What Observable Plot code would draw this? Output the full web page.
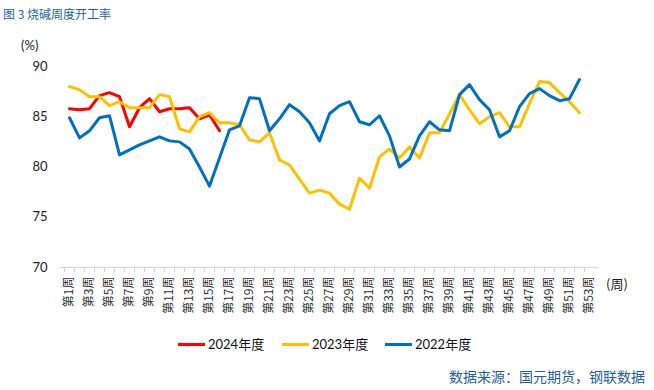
<!DOCTYPE html>
<html><head><meta charset="utf-8">
<script src="https://cdn.jsdelivr.net/npm/d3@7"></script>
<script src="https://cdn.jsdelivr.net/npm/@observablehq/plot@0.6"></script>
<style>
body{margin:0;background:#fff;}
#wrap{position:relative;width:654px;height:390px;font-family:Lato,"Noto Sans CJK SC",sans-serif;overflow:hidden;}
#chart svg{display:block;}
.abs{position:absolute;white-space:nowrap;}
.title{left:3px;top:5px;font-size:12px;color:#1f5fa6;font-family:"Noto Sans CJK SC",sans-serif;}
.unit{left:21px;top:37px;font-size:13px;color:#222;}
.wk{left:606px;top:274px;font-size:13px;color:#222;font-family:"Noto Sans CJK SC",sans-serif;}
.leg{top:335px;font-size:13px;color:#111;line-height:18px;}
.leg i{display:inline-block;width:27px;height:3px;vertical-align:middle;margin-right:3px;position:relative;top:-1px;}
.src{right:9px;top:366px;font-size:14px;color:#1f5fa6;font-family:"Noto Sans CJK SC",sans-serif;}
</style></head>
<body>
<div id="wrap">
  <div id="chart"></div>
  <div class="abs title">图 3 烧碱周度开工率</div>
  <div class="abs unit">(%)</div>
  <div class="abs wk">(周)</div>
  <div id="legend"></div>
  <div class="abs src">数据来源：国元期货，钢联数据</div>
</div>
<script>
const weeks = ["第1周","第2周","第3周","第4周","第5周","第6周","第7周","第8周","第9周","第10周",
"第11周","第12周","第13周","第14周","第15周","第16周","第17周","第18周","第19周","第20周",
"第21周","第22周","第23周","第24周","第25周","第26周","第27周","第28周","第29周","第30周",
"第31周","第32周","第33周","第34周","第35周","第36周","第37周","第38周","第39周","第40周",
"第41周","第42周","第43周","第44周","第45周","第46周","第47周","第48周","第49周","第50周",
"第51周","第52周","第53周"];
const labelWeeks = ["第1周","第3周","第5周","第7周","第9周","第11周","第13周","第15周","第17周","第19周",
"第21周","第23周","第25周","第27周","第29周","第31周","第33周","第35周","第37周","第39周",
"第41周","第43周","第45周","第47周","第49周","第51周","第53周"];
const yTicks = [70, 75, 80, 85, 90];

const series2024 = [85.8, 85.7, 85.8, 87.1, 87.4, 87.0, 84.0, 85.9, 86.8, 85.5, 85.8, 85.8, 85.9, 84.8, 85.2, 83.6];
const series2023 = [88.0, 87.7, 87.0, 87.0, 86.1, 86.5, 85.9, 85.9, 85.9, 87.2,
  87.0, 83.8, 83.5, 85.0, 85.4, 84.4, 84.4, 84.2, 82.7, 82.5,
  83.4, 80.7, 80.2, 78.8, 77.4, 77.7, 77.4, 76.3, 75.8, 78.9,
  77.9, 81.0, 81.8, 80.9, 82.0, 80.9, 83.4, 83.4, 85.3, 87.2,
  85.7, 84.3, 85.0, 85.4, 84.0, 84.0, 86.3, 88.5, 88.4, 87.4,
  86.5, 85.4];
const series2022 = [84.9, 82.9, 83.6, 84.9, 85.1, 81.2, 81.7, 82.2, 82.6, 83.0,
  82.6, 82.5, 81.8, 80.0, 78.1, 80.9, 83.7, 84.1, 86.9, 86.8,
  83.6, 84.8, 86.2, 85.5, 84.4, 82.6, 85.3, 86.1, 86.5, 84.5,
  84.2, 85.1, 83.1, 80.0, 80.8, 83.1, 84.5, 83.7, 83.6, 87.2,
  88.2, 86.7, 85.7, 83.0, 83.6, 86.0, 87.3, 87.8, 87.1, 86.6,
  86.8, 88.7];

const seriesNames = ["2024年度", "2023年度", "2022年度"];
const seriesColors = ["#ff0000", "#ffc000", "#0070c0"];
const seriesValues = [series2024, series2023, series2022];

const rows = seriesValues.map(vals => vals.map((v, i) => ({week: weeks[i], value: v})));

const W = 654, H = 335, mL = 60, mR = 56, mT = 66, mB = 68;
const step = (W - mL - mR) / weeks.length;

const chart = Plot.plot({
  width: W, height: H,
  marginLeft: mL, marginRight: mR, marginTop: mT, marginBottom: mB,
  style: {fontFamily: 'Lato, "Noto Sans CJK SC", sans-serif', color: "#222", background: "#fff"},
  x: {type: "point", domain: weeks, padding: 0.5, label: null},
  y: {domain: [70, 90], label: null},
  marks: [
    Plot.ruleY([70], {stroke: "#d4d4d4", strokeWidth: 1}),
    Plot.axisX({ticks: weeks, tickSize: 5, tickFormat: () => "", label: null, stroke: "#d4d4d4", dx: -step / 2}),
    Plot.axisX({ticks: labelWeeks, tickSize: 0, tickPadding: 9, tickRotate: -90, fontSize: 12, label: null,
      fontFamily: '"Noto Sans CJK SC", sans-serif', fill: "#333"}),
    Plot.axisY({ticks: yTicks, tickSize: 0, tickPadding: 13, fontSize: 13, label: null, fill: "#222"}),
    ...rows.map((data, k) => Plot.line(data, {x: "week", y: "value", stroke: seriesColors[k], strokeWidth: 3, strokeLinejoin: "round"}))
  ]
});
document.getElementById("chart").appendChild(chart);

const legendLeft = [178, 282, 385];
const legend = document.getElementById("legend");
seriesNames.forEach((name, k) => {
  const d = document.createElement("div");
  d.className = "abs leg";
  d.style.left = legendLeft[k] + "px";
  d.innerHTML = `<i style="background:${seriesColors[k]}"></i>${name}`;
  legend.appendChild(d);
});
</script>
</body></html>
